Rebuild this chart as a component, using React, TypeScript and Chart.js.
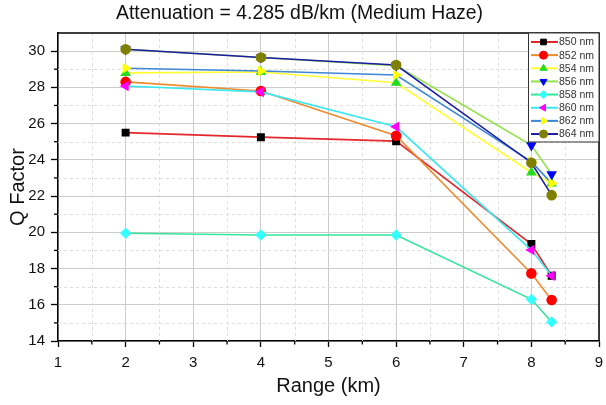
import { useEffect, useRef } from 'react';
import { Chart, registerables } from 'chart.js';
import { drawPoint } from 'chart.js/helpers';

Chart.register(...registerables);

// range in km (x positions of the measurements)
const ranges = [2, 4, 6, 8, 8.3];

const wavelengths = ['850 nm', '852 nm', '854 nm', '856 nm', '858 nm', '860 nm', '862 nm', '864 nm'];

// Q factor per wavelength
const q850 = [25.5, 25.25, 25.03, 19.35, 17.6];
const q852 = [28.3, 27.8, 25.33, 17.73, 16.26];
const q854 = [28.8, 28.85, 28.25, 23.3, 22.7];
const q856 = [30.1, 29.65, 29.2, 24.8, 23.2];
const q858 = [19.95, 19.85, 19.85, 16.3, 15.05];
const q860 = [28.07, 27.75, 25.82, 19.02, 17.6];
const q862 = [29.05, 28.9, 28.68, 23.9, 22.7];
const q864 = [30.1, 29.65, 29.23, 23.84, 22.05];

const series = [q850, q852, q854, q856, q858, q860, q862, q864];

const lineColors = ['#e3272b', '#f08a2c', '#ffff33', '#92e346', '#33e89a', '#3ae8f0', '#3d86d8', '#1c1ca8'];
const markerColors = ['#000000', '#ff0000', '#22dd22', '#0000ff', '#33ffff', '#ff00ff', '#ffff00', '#808000'];
const markerStyles = ['rect', 'circle', 'triangle', 'triangle', 'rectRot', 'triangle', 'triangle', 'circle'];
const markerRotations = [0, 0, 0, 180, 0, -90, 90, 0];

const FONT = "'Liberation Sans', Arial, sans-serif";

const frameAndMinor = {
  id: 'frameAndMinor',
  beforeDatasetsDraw(chart: any) {
    const { ctx, chartArea: a, scales } = chart;
    const x = scales.x;
    const y = scales.y;
    ctx.save();
    // minor dashed grid
    ctx.strokeStyle = '#dddddd';
    ctx.lineWidth = 1;
    ctx.setLineDash([3, 3]);
    for (let v = 1.5; v < 9; v += 1) {
      const px = Math.round(x.getPixelForValue(v)) + 0.5;
      ctx.beginPath();
      ctx.moveTo(px, a.top);
      ctx.lineTo(px, a.bottom);
      ctx.stroke();
    }
    for (let v = 15; v < 31; v += 2) {
      const py = Math.round(y.getPixelForValue(v)) + 0.5;
      ctx.beginPath();
      ctx.moveTo(a.left, py);
      ctx.lineTo(a.right, py);
      ctx.stroke();
    }
    ctx.setLineDash([]);
    // minor ticks
    ctx.strokeStyle = '#000';
    ctx.lineWidth = 1.3;
    for (let v = 1.5; v < 9; v += 1) {
      const px = x.getPixelForValue(v);
      ctx.beginPath();
      ctx.moveTo(px, a.bottom);
      ctx.lineTo(px, a.bottom + 3.5);
      ctx.stroke();
    }
    for (let v = 15; v < 31; v += 2) {
      const py = y.getPixelForValue(v);
      ctx.beginPath();
      ctx.moveTo(a.left, py);
      ctx.lineTo(a.left - 4, py);
      ctx.stroke();
    }
    // top and right frame
    ctx.lineWidth = 1.5;
    ctx.beginPath();
    ctx.moveTo(a.left, a.top);
    ctx.lineTo(a.right, a.top);
    ctx.lineTo(a.right, a.bottom);
    ctx.stroke();
    ctx.restore();
  },
};

const boxLegend = {
  id: 'boxLegend',
  afterDatasetsDraw(chart: any) {
    const { ctx, chartArea: a } = chart;
    const w = 71;
    const rowH = 13.15;
    const left = a.right - w;
    const top = a.top;
    const h = 109;
    ctx.save();
    ctx.fillStyle = '#fff';
    ctx.fillRect(left, top, w, h);
    ctx.strokeStyle = '#333';
    ctx.lineWidth = 1;
    ctx.strokeRect(left + 0.5, top, w - 0.5, h);
    ctx.font = `10.5px ${FONT}`;
    ctx.textBaseline = 'middle';
    wavelengths.forEach((name, i) => {
      const cy = top + 9 + i * rowH;
      ctx.strokeStyle = lineColors[i];
      ctx.lineWidth = 2;
      ctx.beginPath();
      ctx.moveTo(left + 3, cy);
      ctx.lineTo(left + 30, cy);
      ctx.stroke();
      ctx.fillStyle = markerColors[i];
      ctx.strokeStyle = markerColors[i];
      ctx.lineWidth = 1;
      drawPoint(ctx, { pointStyle: markerStyles[i], rotation: markerRotations[i], radius: 4, borderWidth: 1 } as any, left + 15.5, cy);
      ctx.fillStyle = '#333';
      ctx.fillText(name, left + 31, cy + 0.5);
    });
    ctx.restore();
  },
};

const App = () => {
  const canvasRef = useRef<HTMLCanvasElement | null>(null);

  useEffect(() => {
    document.body.style.margin = '0';
    if (!canvasRef.current) return;

    const chart = new Chart(canvasRef.current, {
      type: 'line',
      data: {
        datasets: series.map((values, i) => ({
          label: wavelengths[i],
          data: values.map((v, j) => ({ x: ranges[j], y: v })),
          borderColor: lineColors[i],
          backgroundColor: markerColors[i],
          pointBackgroundColor: markerColors[i],
          pointBorderColor: markerColors[i],
          pointStyle: markerStyles[i] as any,
          pointRotation: markerRotations[i],
          pointRadius: 4.5,
          borderWidth: 1.6,
          tension: 0,
          order: series.length - i,
        })),
      },
      options: {
        animation: false,
        responsive: false,
        layout: { padding: { right: 7, bottom: 7 } },
        plugins: {
          legend: { display: false },
          tooltip: { enabled: false },
          title: {
            display: true,
            text: 'Attenuation = 4.285 dB/km (Medium Haze)',
            color: '#111',
            font: { family: FONT, size: 19.4, weight: 'normal' },
            padding: { top: 2.5, bottom: 7.2 },
          },
        },
        scales: {
          x: {
            type: 'linear',
            min: 1,
            max: 9,
            afterFit: (scale: any) => {
              scale.height = 57;
              scale.paddingRight = 0;
              scale.paddingLeft = 0;
            },
            ticks: {
              stepSize: 1,
              color: '#111',
              font: { family: FONT, size: 15 },
              padding: 7,
            },
            grid: { color: '#cccccc', tickColor: '#000', tickLength: 6, tickWidth: 1.3 },
            border: { color: '#000', width: 1.5 },
            title: {
              display: true,
              text: 'Range (km)',
              color: '#111',
              font: { family: FONT, size: 20 },
              padding: { top: 2, bottom: 0 },
            },
          },
          y: {
            type: 'linear',
            min: 14,
            max: 31,
            afterBuildTicks: (scale: any) => {
              scale.ticks = scale.ticks.filter((t: any) => t.value % 2 === 0);
            },
            afterFit: (scale: any) => {
              scale.width = 58;
            },
            ticks: {
              stepSize: 2,
              color: '#111',
              font: { family: FONT, size: 15 },
              padding: 6,
            },
            grid: { color: '#cccccc', tickColor: '#000', tickLength: 7, tickWidth: 1.3 },
            border: { color: '#000', width: 1.5 },
            title: {
              display: true,
              text: 'Q Factor',
              color: '#111',
              font: { family: FONT, size: 20 },
              padding: { top: 6, bottom: 0 },
            },
          },
        },
      },
      plugins: [frameAndMinor, boxLegend],
    });

    return () => {
      chart.destroy();
    };
  }, []);

  return (
    <div style={{ width: 606, height: 405, background: '#fff' }}>
      <canvas ref={canvasRef} width={606} height={405} />
    </div>
  );
};

export default App;
